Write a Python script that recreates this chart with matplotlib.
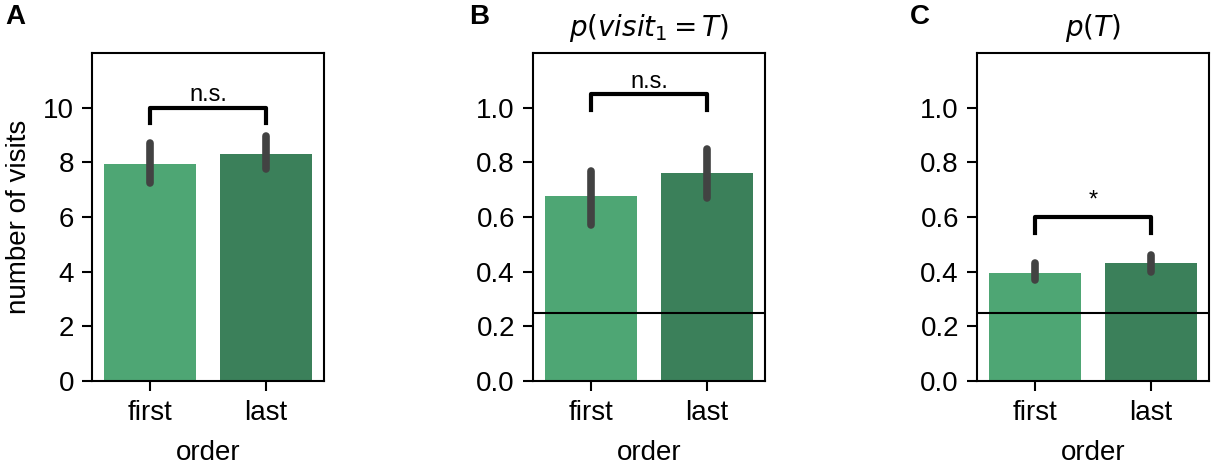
import matplotlib
matplotlib.use("Agg")
import matplotlib.pyplot as plt

plt.rcParams["font.family"] = ["Liberation Sans", "DejaVu Sans"]
plt.rcParams["mathtext.fontset"] = "dejavusans"

# ── data ─────────────────────────────────────────────────────────────────────
orders = ["first", "last"]

visits_mean = [7.95, 8.3]
visits_lo   = [7.25, 7.77]
visits_hi   = [8.72, 8.97]

first_mean = [0.675, 0.76]
first_lo   = [0.57, 0.67]
first_hi   = [0.77, 0.85]

pt_mean = [0.395, 0.43]
pt_lo   = [0.37, 0.40]
pt_hi   = [0.43, 0.46]

chance = 0.25

# ── style ────────────────────────────────────────────────────────────────────
bar_cols = ["#4ea674", "#3b805a"]
err_col  = "#424242"
FS = 20

fig = plt.figure(figsize=(12.11, 4.65), dpi=100)
W, H = 1211, 465

def axes_at(x0, x1, y0=53, y1=381):
    return fig.add_axes([x0 / W, (H - y1) / H, (x1 - x0) / W, (y1 - y0) / H])

def panel(ax, mean, lo, hi, ymax, ticks, bracket, leg, label, txt_pad, hline=None):
    x = list(range(len(orders)))
    ax.bar(x, mean, width=0.8, color=bar_cols, zorder=1)
    for i in x:
        ax.plot([i, i], [lo[i], hi[i]], color=err_col, lw=5.5,
                solid_capstyle="round", zorder=3)
    if hline is not None:
        ax.axhline(hline, color="black", lw=1.5, zorder=2)
    ax.plot([0, 0, 1, 1], [leg, bracket, bracket, leg], color="black", lw=3,
            zorder=4)
    ax.text(0.5, bracket + txt_pad, label, ha="center", va="bottom", fontsize=17)
    ax.set_xlim(-0.5, 1.5)
    ax.set_ylim(0, ymax)
    ax.set_yticks(ticks)
    ax.set_xticks(x)
    ax.set_xticklabels(orders)
    ax.tick_params(labelsize=FS, length=7, width=1.5)
    ax.tick_params(axis="x", pad=7)
    ax.tick_params(axis="y", pad=6)
    for s in ax.spines.values():
        s.set_linewidth(1.5)
    ax.set_xlabel("order", fontsize=FS, labelpad=10)

# ── panel A ──
axA = axes_at(92, 324)
panel(axA, visits_mean, visits_lo, visits_hi, 12, [0, 2, 4, 6, 8, 10],
      10.0, 9.45, "n.s.", 0.05)
axA.set_ylabel("number of visits", fontsize=FS, labelpad=8)

# ── panel B ──
axB = axes_at(533, 765)
panel(axB, first_mean, first_lo, first_hi, 1.2, [0, 0.2, 0.4, 0.6, 0.8, 1.0],
      1.05, 0.99, "n.s.", 0.005, hline=chance)
axB.set_yticklabels(["0.0", "0.2", "0.4", "0.6", "0.8", "1.0"])
axB.set_title("$p(visit_1 = T)$", fontsize=FS, pad=12)

# ── panel C ──
axC = axes_at(977, 1209)
panel(axC, pt_mean, pt_lo, pt_hi, 1.2, [0, 0.2, 0.4, 0.6, 0.8, 1.0],
      0.60, 0.54, "*", 0.02, hline=chance)
axC.set_yticklabels(["0.0", "0.2", "0.4", "0.6", "0.8", "1.0"])
axC.set_title("$p(T)$", fontsize=FS, pad=12)

# panel letters
for lab, xp in [("A", 5), ("B", 469), ("C", 910)]:
    fig.text(xp / W, 1 - 4 / H, lab, fontsize=20, fontweight="bold",
             ha="left", va="top")

fig.savefig("out.png", dpi=100)
